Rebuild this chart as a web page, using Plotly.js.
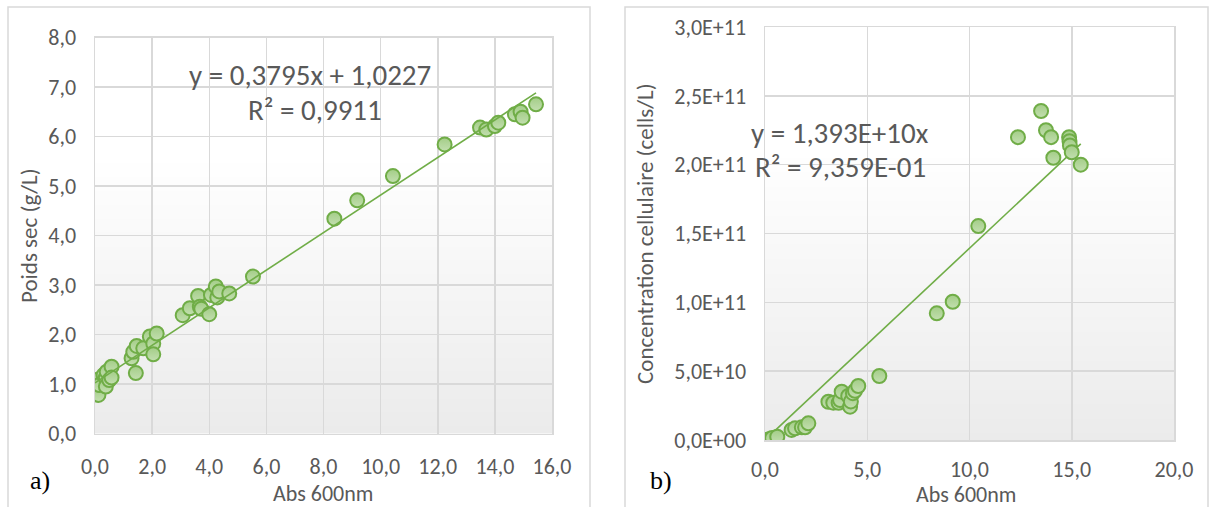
<!DOCTYPE html>
<html>
<head>
<meta charset="utf-8">
<script src="https://cdn.plot.ly/plotly-3.0.1.min.js"></script>
<style>html,body{margin:0;padding:0;background:#fff;}#chart{width:1214px;height:507px;}</style>
</head>
<body>
<div id="chart"></div>
<script>
// ---- Data ----
const absA = [0.0, 0.05, 0.12, 0.12, 0.15, 0.3, 0.38, 0.38, 0.41, 0.5, 0.58, 0.58, 1.28, 1.34, 1.43, 1.46, 1.69, 1.92, 2.04, 2.04, 2.16, 3.07, 3.32, 3.61, 3.67, 3.72, 4.0, 4.06, 4.23, 4.28, 4.35, 4.7, 5.53, 8.38, 9.18, 10.43, 12.24, 13.48, 13.7, 14.0, 14.12, 14.7, 14.9, 14.97, 15.44];
const poidsSec = [0.91, 0.84, 0.78, 1.09, 0.98, 1.18, 1.13, 0.95, 1.25, 1.08, 1.35, 1.13, 1.52, 1.65, 1.22, 1.77, 1.72, 1.96, 1.82, 1.60, 2.02, 2.39, 2.53, 2.78, 2.56, 2.52, 2.41, 2.80, 2.97, 2.75, 2.87, 2.83, 3.17, 4.34, 4.71, 5.2, 5.84, 6.18, 6.14, 6.21, 6.28, 6.45, 6.5, 6.38, 6.65];

const absB = [0.11, 0.2, 0.35, 0.6, 1.3, 1.47, 1.8, 1.96, 2.12, 3.1, 3.34, 3.6, 3.67, 3.75, 4.07, 4.16, 4.2, 4.3, 4.4, 4.56, 5.59, 8.4, 9.18, 10.43, 12.37, 13.5, 13.74, 13.99, 14.1, 14.87, 14.89, 14.91, 15.0, 15.44];
const cellConc = [0.0, 0.05e10, 0.15e10, 0.24e10, 0.73e10, 0.85e10, 0.92e10, 0.92e10, 1.21e10, 2.78e10, 2.71e10, 2.7e10, 2.9e10, 3.51e10, 3.2e10, 2.42e10, 2.8e10, 3.4e10, 3.58e10, 3.92e10, 4.65e10, 9.2e10, 10.04e10, 15.54e10, 22.0e10, 23.9e10, 22.5e10, 22.0e10, 20.5e10, 22.0e10, 21.7e10, 21.4e10, 20.9e10, 20.0e10];

const slopeA = 0.3795, interceptA = 1.0227;
const slopeB = 1.393e10;
const eqA = ['y = 0,3795x + 1,0227', 'R² = 0,9911'];
const eqB = ['y = 1,393E+10x', 'R² = 9,359E-01'];

const xTicksA = [0, 2, 4, 6, 8, 10, 12, 14, 16];
const yTicksA = [0, 1, 2, 3, 4, 5, 6, 7, 8];
const xTicksB = [0, 5, 10, 15, 20];
const yTicksB = [0, 5e10, 1e11, 1.5e11, 2e11, 2.5e11, 3e11];
const yTickTextB = ['0,0E+00', '5,0E+10', '1,0E+11', '1,5E+11', '2,0E+11', '2,5E+11', '3,0E+11'];

// ---- Styles ----
const W = 1214, H = 507;
const FONT = 'Carlito, Calibri, Lato, sans-serif';
const TXT = '#595959';
const GRID = '#d9d9d9';
const GREEN = '#70ad47';
const FILL = '#a3cd87';

const minA = Math.min(...absA), maxA = Math.max(...absA);
const minB = Math.min(...absB), maxB = Math.max(...absB);

const markerStyle = {size: 14, color: FILL, line: {color: GREEN, width: 2},
  gradient: {type: 'vertical', color: '#c3dfb0'}};

const traces = [
  {x: absA, y: poidsSec, type: 'scatter', mode: 'markers', xaxis: 'x', yaxis: 'y', marker: markerStyle, hoverinfo: 'x+y'},
  {x: [minA, maxA], y: [slopeA * minA + interceptA, slopeA * maxA + interceptA], type: 'scatter', mode: 'lines',
   xaxis: 'x', yaxis: 'y', line: {color: GREEN, width: 1.6}},
  {x: [minB, maxB], y: [slopeB * minB, slopeB * maxB], type: 'scatter', mode: 'lines',
   xaxis: 'x2', yaxis: 'y2', line: {color: GREEN, width: 1.6}},
  {x: absB, y: cellConc, type: 'scatter', mode: 'markers', xaxis: 'x2', yaxis: 'y2', marker: markerStyle, hoverinfo: 'x+y'}
];

// pixel -> paper helpers
const px = v => v / W;
const py = v => (H - v) / H;

const axisBase = {
  showgrid: true, gridcolor: GRID, gridwidth: 1.5,
  showline: true, linecolor: GRID, linewidth: 1.5, mirror: true,
  zeroline: false, ticks: '', fixedrange: true,
  tickfont: {family: FONT, size: 22, color: TXT},
  ticklabelstandoff: 13
};

// gradient plot-area background (white top -> light grey bottom)
function gradientShapes(xr, yr) {
  const out = [];
  const n = 40, start = 0.7;
  for (let i = 0; i < n; i++) {
    const y0 = start * i / n, y1 = start * (i + 1) / n;
    const t = 1 - (i + 0.5) / n;
    const c = Math.round(255 - 20 * t);
    out.push({type: 'rect', xref: xr + ' domain', yref: yr + ' domain', x0: 0, x1: 1, y0: y0, y1: y1 + 0.002,
      fillcolor: `rgb(${c},${c},${c})`, line: {width: 0}, layer: 'below'});
  }
  return out;
}

const shapes = [
  ...gradientShapes('x', 'y'),
  ...gradientShapes('x2', 'y2'),
  {type: 'rect', xref: 'paper', yref: 'paper', x0: px(8), x1: px(590), y0: -0.1, y1: py(7),
   line: {color: GRID, width: 1.5}, fillcolor: 'rgba(0,0,0,0)'},
  {type: 'rect', xref: 'paper', yref: 'paper', x0: px(625), x1: px(1208), y0: -0.1, y1: py(7),
   line: {color: GRID, width: 1.5}, fillcolor: 'rgba(0,0,0,0)'}
];

const ann = (text, x, y, size, extra) => Object.assign({
  text: text, xref: 'paper', yref: 'paper', x: px(x), y: py(y), xanchor: 'center', yanchor: 'middle',
  showarrow: false, font: {family: FONT, size: size, color: TXT}}, extra || {});

const annotations = [
  ann(eqA[0], 310, 75, 29),
  ann(eqA[1], 315, 110, 29),
  ann(eqB[0], 840, 133, 29),
  ann(eqB[1], 840, 167, 29),
  ann('Abs 600nm', 323, 493, 22),
  ann('Abs 600nm', 966, 494, 22),
  ann('Poids sec (g/L)', 29, 236, 23, {textangle: -90}),
  ann('Concentration cellulaire (cells/L)', 645, 234, 23, {textangle: -90}),
  ann('a)', 40, 480, 26, {font: {family: 'Liberation Serif, Times New Roman, serif', size: 26, color: '#000'}}),
  ann('b)', 661, 480, 26, {font: {family: 'Liberation Serif, Times New Roman, serif', size: 26, color: '#000'}})
];

const layout = {
  width: W, height: H,
  margin: {l: 0, r: 0, t: 0, b: 0},
  paper_bgcolor: '#fff', plot_bgcolor: 'rgba(0,0,0,0)',
  showlegend: false,
  separators: ', ',
  xaxis: Object.assign({}, axisBase, {domain: [px(95), px(552)], range: [0, 16], tickvals: xTicksA, tickformat: '.1f', anchor: 'y'}),
  yaxis: Object.assign({}, axisBase, {domain: [py(433.5), py(37.5)], range: [0, 8], tickvals: yTicksA, tickformat: '.1f', anchor: 'x'}),
  xaxis2: Object.assign({}, axisBase, {domain: [px(765), px(1174)], range: [0, 20], tickvals: xTicksB, tickformat: '.1f', anchor: 'y2', ticklabelstandoff: 9}),
  yaxis2: Object.assign({}, axisBase, {domain: [py(440), py(27)], range: [0, 3e11], tickvals: yTicksB, ticktext: yTickTextB, anchor: 'x2'}),
  shapes: shapes,
  annotations: annotations
};

Plotly.newPlot('chart', traces, layout, {displayModeBar: false, staticPlot: true});
</script>
</body>
</html>
